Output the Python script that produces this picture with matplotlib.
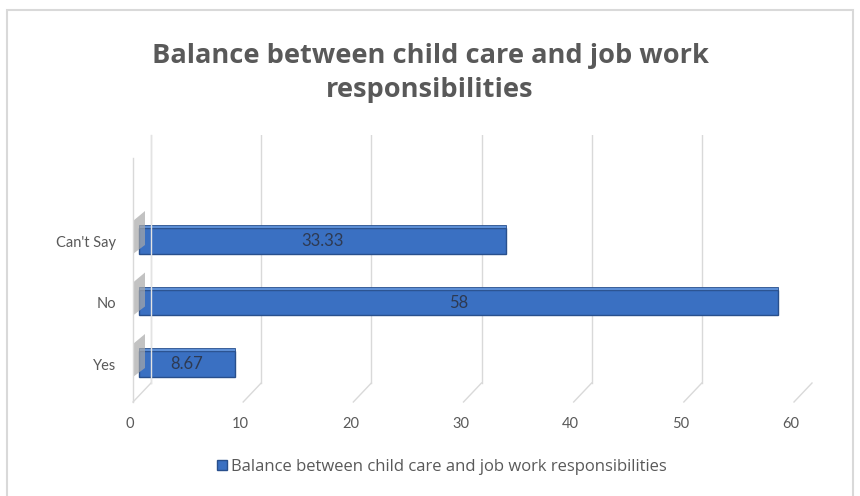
import matplotlib
matplotlib.use("Agg")
import matplotlib.pyplot as plt
import matplotlib.transforms as mtransforms
from matplotlib.patches import Rectangle, Polygon
import numpy as np

# data
categories = ["Yes", "No", "Can't Say"]
values = [8.67, 58, 33.33]
value_labels = ["8.67", "58", "33.33"]
xticks = [0, 10, 20, 30, 40, 50, 60]
title = "Balance between child care and job work\nresponsibilities"
series_name = "Balance between child care and job work responsibilities"

plt.rcParams['font.family'] = ['Lato', 'DejaVu Sans']
grey_txt = '#595959'

W, H = 860, 496
fig = plt.figure(figsize=(W / 100, H / 100), dpi=100)

# chart border (light grey frame)
fig.patches.append(Rectangle((7 / W, -0.05), (853 - 7) / W, 1 - 10 / H + 0.05,
                             transform=fig.transFigure, fill=False,
                             edgecolor='#d9d9d9', linewidth=1.5))

# axes placed in pixels: x 130..791, y 135..405 (from top)
left, right, top, bot = 130, 791, 135, 405
ax = fig.add_axes([left / W, 1 - bot / H, (right - left) / W, (bot - top) / H])
ax.set_xlim(0, 60)
spacing = 61.5
ax.set_ylim(0 - (bot - 364) / spacing, 2 + (241 - top) / spacing)
for s in ax.spines.values():
    s.set_visible(False)
ax.patch.set_alpha(0)

def px(dx, dy=0):
    return mtransforms.ScaledTranslation(dx / 100, dy / 100, fig.dpi_scale_trans)

# back wall gridlines
floor = (bot - 383) / (bot - top)
xt = ax.get_xaxis_transform()
for t in xticks:
    ax.plot([t, t], [floor, 1.0], color='#d9d9d9', lw=1, transform=xt + px(21), zorder=0)
# floor diagonals
for t in xticks:
    x0 = ax.transData.transform((t, 0))[0]
    fig.lines.append(plt.Line2D([x0 + 21, x0 + 3], [H - 383, H - 402], color='#d9d9d9',
                                lw=1, transform=None))

# left wall
x0 = ax.transData.transform((0, 0))[0]
fig.lines.append(plt.Line2D([x0 + 3, x0 + 3], [H - 402, H - 158], color='#d9d9d9', lw=1, transform=None))
fig.lines.append(plt.Line2D([x0 + 21, x0 + 21], [H - 383, H - top], color='#e3e3e3', lw=1, transform=None))

# bar shadows on the wall
ypos = np.arange(len(categories))
bar_tr = ax.transData + px(9)
for y in ypos:
    yd = ax.transData.transform((0, y))[1]
    shadow = Polygon([[x0 + 3, yd - 13], [x0 + 15, yd - 4], [x0 + 15, yd + 30], [x0 + 3, yd + 20]],
                     closed=True, transform=None, facecolor='#a8a8a8', edgecolor='none', alpha=0.7)
    fig.patches.append(shadow)

# bars
bh = 0.42
ax.barh(ypos, values, height=bh, color='#3a70c2', edgecolor='#284f8c', linewidth=1,
        transform=bar_tr, zorder=3)
ax.barh(ypos + bh / 2 + 0.025, values, height=0.05, color='#5d8fd6', edgecolor='#284f8c',
        linewidth=0.6, transform=bar_tr, zorder=3)

for y, v, lab in zip(ypos, values, value_labels):
    ax.text(v / 2, y, lab, ha='center', va='center', fontsize=12, color='#2e3a52',
            transform=bar_tr, zorder=4)

ax.set_xticks(xticks)
ax.set_yticks(ypos)
ax.set_yticklabels(categories)
ax.tick_params(axis='both', length=0, labelsize=10.5, labelcolor=grey_txt)
ax.tick_params(axis='x', pad=9)
ax.tick_params(axis='y', pad=10)
ax.grid(False)

fig.text(430 / W, 1 - 73 / H, title, ha='center', va='center', fontsize=19.6,
         fontweight='bold', color=grey_txt, linespacing=1.42,
         family=['Open Sans', 'DejaVu Sans'])

h = Rectangle((0, 0), 1, 1, facecolor='#3a70c2', edgecolor='#284f8c')
fig.legend([h], [series_name], loc='center', bbox_to_anchor=(442 / W, 1 - 467 / H),
           frameon=False, handlelength=0.6, handleheight=0.6,
           handletextpad=0.25, labelcolor=grey_txt,
           prop={'family': ['Open Sans', 'DejaVu Sans'], 'size': 12})

fig.savefig("out.png", dpi=100)
